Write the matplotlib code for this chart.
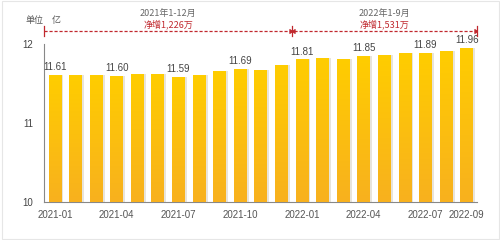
import numpy as np
import matplotlib
matplotlib.use("Agg")
import matplotlib.pyplot as plt
import matplotlib.patheffects as pe
from matplotlib.colors import LinearSegmentedColormap

plt.rcParams['font.family'] = ['Noto Sans CJK SC', 'DejaVu Sans']

# monthly values, 2021-01 .. 2022-09 (unit: 亿)
months = ['2021-01', '2021-02', '2021-03', '2021-04', '2021-05', '2021-06',
          '2021-07', '2021-08', '2021-09', '2021-10', '2021-11', '2021-12',
          '2022-01', '2022-02', '2022-03', '2022-04', '2022-05', '2022-06',
          '2022-07', '2022-08', '2022-09']
values = [11.61, 11.61, 11.61, 11.60, 11.62, 11.63, 11.59, 11.61, 11.66,
          11.69, 11.68, 11.74, 11.81, 11.83, 11.82, 11.85, 11.87, 11.89,
          11.89, 11.92, 11.96]
labelled = ['2021-01', '2021-04', '2021-07', '2021-10', '2022-01',
            '2022-04', '2022-07', '2022-09']
tick_months = ['2021-01', '2021-04', '2021-07', '2021-10', '2022-01',
               '2022-04', '2022-07', '2022-09']
yticks = [10, 11, 12]

periods = [('2021年1-12月', '净增1,226万', '2021-01', '2021-12'),
           ('2022年1-9月', '净增1,531万', '2022-01', '2022-09')]

num_font = 'Liberation Sans'

fig = plt.figure(figsize=(5, 2.4), dpi=100)
ax = fig.add_axes([0.088, 0.158, 0.866, 0.657])

x = np.arange(len(months))
grad = LinearSegmentedColormap.from_list('g', ['#f8b11e', '#ffcd00'])
bars = ax.bar(x, values, width=0.62, color='#ffc400', zorder=2,
              path_effects=[pe.SimplePatchShadow(offset=(1.5, 0), shadow_rgbFace='#d9d2c4', alpha=0.6),
                            pe.Normal()])
g = np.linspace(0, 1, 64).reshape(-1, 1)
for b in bars:
    bx, by = b.get_x(), b.get_y()
    im = ax.imshow(g, cmap=grad, origin='lower', aspect='auto', zorder=3,
                   extent=[bx, bx + b.get_width(), 10, by + b.get_height()])
    im.set_clip_path(b)

# value labels on every third month and the last one
for m in labelled:
    i = months.index(m)
    ax.text(x[i], values[i] + 0.035, f'{values[i]:.2f}', ha='center', va='bottom',
            fontsize=7, color='#444444', family=num_font, zorder=4)

ax.set_xlim(-0.53, 20.5)
ax.set_ylim(10, 12)
ax.set_yticks(yticks)
ax.set_yticklabels([str(t) for t in yticks], fontsize=7, color='#444444', family=num_font)
ax.set_xticks([months.index(m) for m in tick_months])
ax.set_xticklabels(tick_months, fontsize=7, color='#555555', family=num_font)
ax.tick_params(length=0, pad=6)
ax.tick_params(axis='y', pad=8)
for s in ['top', 'right']:
    ax.spines[s].set_visible(False)
for s in ['left', 'bottom']:
    ax.spines[s].set_color('#888888')
    ax.spines[s].set_linewidth(0.8)

# period annotation above the bars
ya = 12.17
red = '#c0282e'
edges = [-0.53, 11.5, 20.5]
ax.plot([edges[0], edges[2]], [ya, ya], ls=(0, (2.5, 1.5)), color=red, lw=0.9,
        clip_on=False, zorder=5)
for e in edges:
    ax.plot([e, e], [ya - 0.06, ya + 0.06], color=red, lw=0.9, clip_on=False, zorder=5)
ax.plot([11.5], [ya], marker=4, color=red, ms=3, clip_on=False)
ax.plot([11.5], [ya], marker=5, color=red, ms=3, clip_on=False)
ax.plot([20.5], [ya], marker=5, color=red, ms=3, clip_on=False)
for title, net, a, b in periods:
    cx = (months.index(a) + months.index(b)) / 2
    ax.text(cx, 12.39, title, ha='center', va='center', fontsize=6.5,
            color='#666666', clip_on=False)
    ax.text(cx, 12.25, net, ha='center', va='center', fontsize=6.5,
            color=red, clip_on=False)

fig.text(0.05, 0.905, '单位', fontsize=6.5, color='#555555')
fig.text(0.104, 0.905, '亿', fontsize=6.5, color='#555555')

fig.patches.append(plt.Rectangle((0.003, 0.003), 0.994, 0.994, transform=fig.transFigure,
                                 fill=False, ec='#e6e6e6', lw=0.8))

fig.savefig('out.png', dpi=100)
